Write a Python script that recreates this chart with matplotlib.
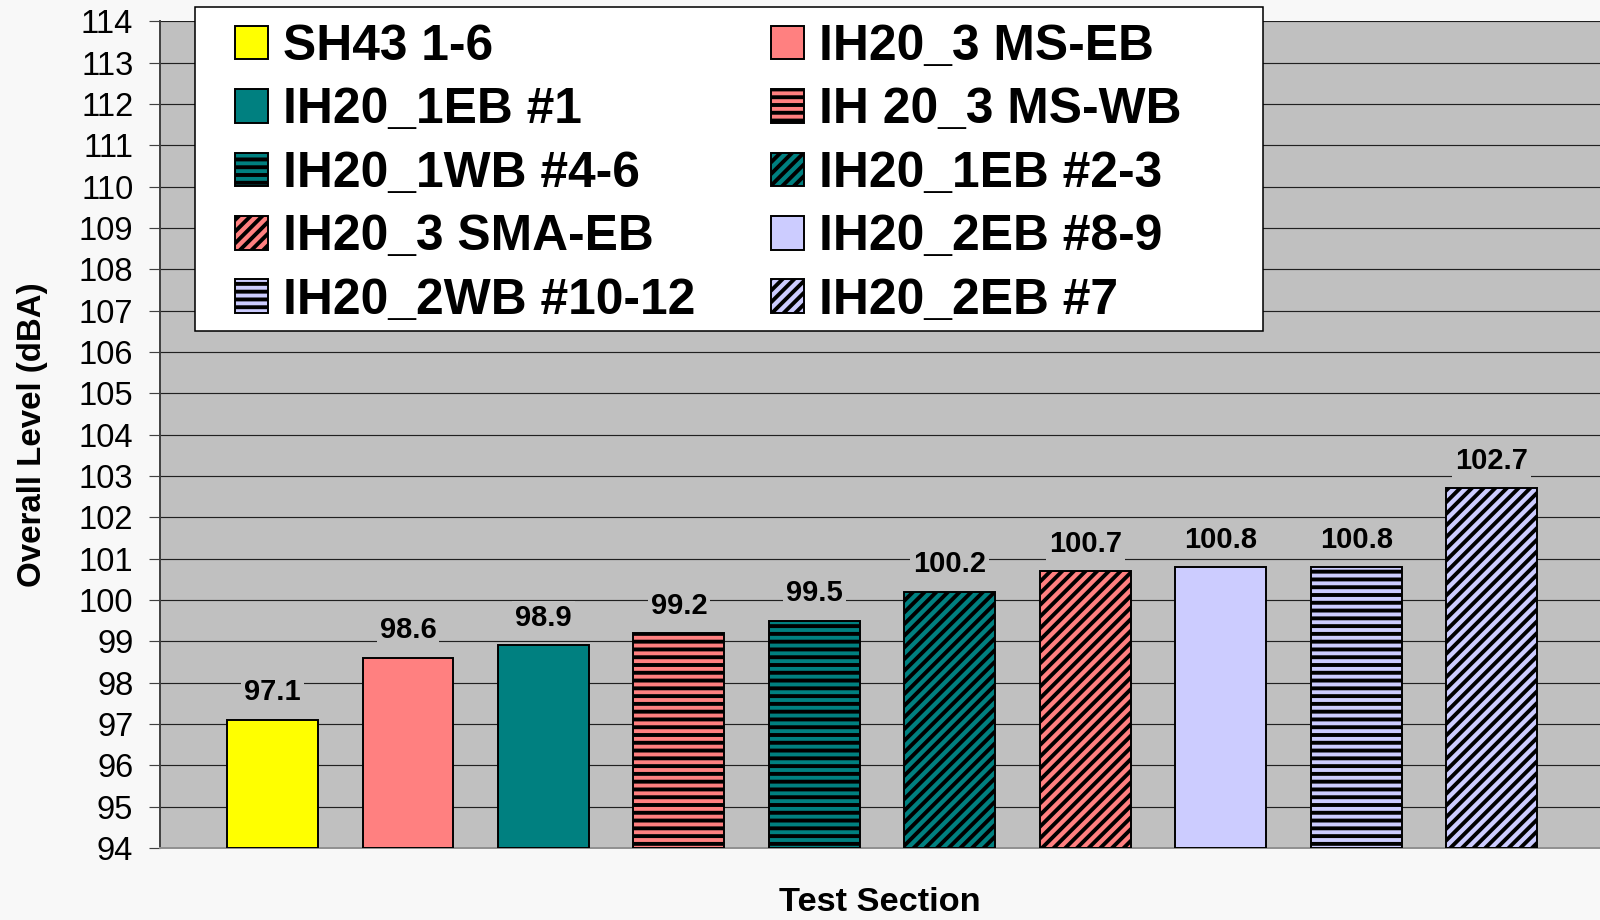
import matplotlib
matplotlib.use("Agg")
import matplotlib.pyplot as plt
from matplotlib.patches import Rectangle

sections = ["SH43 1-6", "IH20_3 MS-EB", "IH20_1EB #1", "IH 20_3 MS-WB", "IH20_1WB #4-6",
            "IH20_1EB #2-3", "IH20_3 SMA-EB", "IH20_2EB #8-9", "IH20_2WB #10-12", "IH20_2EB #7"]
levels = [97.1, 98.6, 98.9, 99.2, 99.5, 100.2, 100.7, 100.8, 100.8, 102.7]
colors = ["#FFFF00", "#FF8080", "#008080", "#FF8080", "#008080",
          "#008080", "#FF8080", "#CCCCFF", "#CCCCFF", "#CCCCFF"]
hatches = ["", "", "", "---", "---", "////", "////", "", "---", "////"]
yticks = list(range(94, 115))

plt.rcParams['font.family'] = ['Liberation Sans', 'DejaVu Sans']
plt.rcParams['hatch.linewidth'] = 2.0

DPI = 140
fig = plt.figure(figsize=(1600 / DPI, 920 / DPI), dpi=DPI, facecolor="#F8F8F8")
ax = fig.add_axes([0.1, 0.0783, 0.9, 0.8984])
ax.set_facecolor("#C0C0C0")

handles = []
for i, (name, val, c, h) in enumerate(zip(sections, levels, colors, hatches)):
    b = ax.bar(i, val - 94, bottom=94, width=0.67, color=c, edgecolor="black",
               linewidth=1.0, hatch=h, label=name, zorder=3)
    handles.append(b)
    ax.annotate(f"{val:.1f}", xy=(i, val), xytext=(0, 10), textcoords="offset points",
                ha="center", va="baseline", fontsize=15, fontweight="bold", zorder=4,
                bbox=dict(boxstyle="square,pad=0.1", facecolor="#C0C0C0", edgecolor="none"))

ax.set_xlim(-0.83, 9.80)
ax.set_ylim(94, 114)
ax.set_yticks(yticks)
ax.set_yticklabels([str(t) for t in yticks], fontsize=16.8)
ax.set_xticks([])
ax.yaxis.grid(True, color="#202020", linewidth=0.6, zorder=1)
ax.set_axisbelow(True)
ax.tick_params(axis="y", direction="out", length=5.7, width=0.6, color="#404040", pad=8)
for s in ["top", "right"]:
    ax.spines[s].set_visible(False)
ax.spines["left"].set_color("#404040")
ax.spines["left"].set_linewidth(1.0)
ax.spines["bottom"].set_color("#909090")
ax.spines["bottom"].set_linewidth(1.0)

ax.set_ylabel("Overall Level (dBA)", fontsize=17, fontweight="bold", labelpad=16)
ax.set_xlabel("Test Section", fontsize=17.7, fontweight="bold", labelpad=20)

# legend frame box
frame = Rectangle((0.0243, 0.6255), 0.7417, 0.3919, transform=ax.transAxes,
                  facecolor="white", edgecolor="black", linewidth=0.8,
                  clip_on=False, zorder=5)
ax.add_patch(frame)

order = [0, 2, 4, 6, 8, 1, 3, 5, 7, 9]
x_left = (235 - 160) / 1440
y_top = (848 - 24) / 826.6
leg = ax.legend([handles[k] for k in order], [sections[k] for k in order], ncol=2,
                loc="upper left", bbox_to_anchor=(x_left, y_top),
                borderaxespad=0, borderpad=0,
                prop=dict(weight="bold", size=25.6), frameon=False,
                handlelength=0.66, handleheight=0.66, handletextpad=0.3,
                labelspacing=0.35, columnspacing=1.53)
leg.set_zorder(6)

fig.savefig("out.png", dpi=DPI, facecolor=fig.get_facecolor())
